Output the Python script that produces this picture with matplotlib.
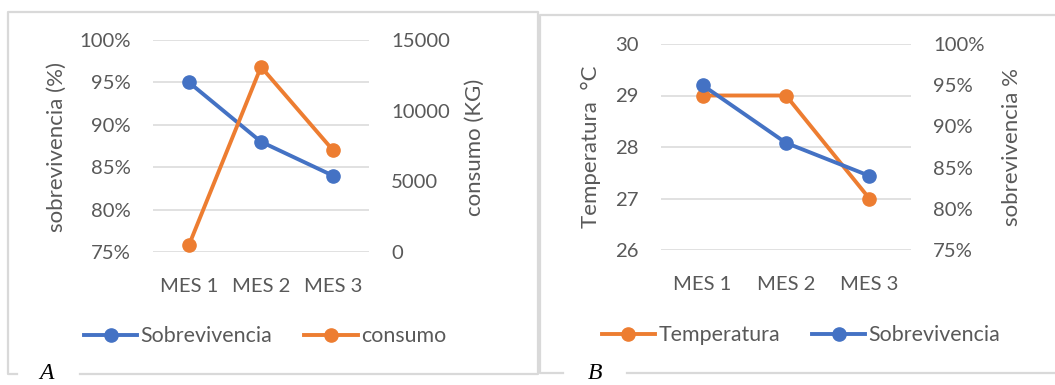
import matplotlib.pyplot as plt
from matplotlib.lines import Line2D
from matplotlib.ticker import PercentFormatter, MultipleLocator

meses = ["MES 1", "MES 2", "MES 3"]
sobrevivencia = [0.95, 0.88, 0.84]
consumo = [500, 13100, 7200]
temperatura = [29, 29, 27]

azul = "#4472C4"
naranja = "#ED7D31"
gris = "#595959"
borde = "#D9D9D9"

plt.rcParams['font.family'] = ['Lato', 'DejaVu Sans']
plt.rcParams['font.size'] = 14

W, H = 1055, 385
fig = plt.figure(figsize=(W / 100, H / 100), dpi=100)


def px_axes(x0, y0, x1, y1):
    # pixel box (top-left origin) -> figure axes
    return fig.add_axes([x0 / W, 1 - y1 / H, (x1 - x0) / W, (y1 - y0) / H])


def px_line(xs, ys):
    fig.add_artist(Line2D([x / W for x in xs], [1 - y / H for y in ys],
                          transform=fig.transFigure, color=borde, lw=1.6))


def style(ax, grid):
    for s in ax.spines.values():
        s.set_visible(False)
    ax.tick_params(length=0, colors=gris, labelsize=14.6, pad=16)
    if grid:
        ax.yaxis.grid(True, color=borde, lw=1.1)
        ax.set_axisbelow(True)


line_kw = dict(lw=2.8, marker="o", markersize=9.5)
lab_kw = dict(rotation=90, ha="center", va="center", color=gris, fontsize=16)
leg_kw = dict(loc="center", ncol=2, frameon=False, handlelength=2.5, handletextpad=0.15,
              columnspacing=1.5, labelcolor=gris, fontsize=15.4)

# ---- panel A
px_line([17, 8, 8, 538, 538, 80], [374, 374, 12, 12, 374, 374])
a1 = px_axes(153, 40, 369, 252)
a2 = a1.twinx()
a1.plot(meses, sobrevivencia, color=azul, label="Sobrevivencia", **line_kw)
a2.plot(meses, consumo, color=naranja, label="consumo", **line_kw)
a1.set_ylim(0.75, 1.0)
a1.yaxis.set_major_locator(MultipleLocator(0.05))
a1.yaxis.set_major_formatter(PercentFormatter(1.0, decimals=0))
a2.set_ylim(0, 15000)
a2.yaxis.set_major_locator(MultipleLocator(5000))
a1.set_xlim(-0.5, 2.5)
style(a1, True)
style(a2, False)
a1.tick_params(axis="x", pad=19)
fig.text(57 / W, 1 - 147 / H, "sobrevivencia (%)", **lab_kw)
fig.text(475 / W, 1 - 147 / H, "consumo (KG)", **lab_kw)
h1, l1 = a1.get_legend_handles_labels()
h2, l2 = a2.get_legend_handles_labels()
fig.legend(h1 + h2, l1 + l2, bbox_to_anchor=(265 / W, 1 - 336 / H), **leg_kw)
fig.text(46 / W, 1 - 384 / H, "A", fontsize=17, style="italic", family="Liberation Serif",
         ha="center", va="bottom")

# ---- panel B
px_line([563, 540, 540, 1055], [373, 373, 15, 15])
px_line([627, 1055], [373, 373])
b1 = px_axes(661, 44, 911, 250)
b2 = b1.twinx()
b1.plot(meses, temperatura, color=naranja, label="Temperatura", **line_kw)
b2.plot(meses, sobrevivencia, color=azul, label="Sobrevivencia", **line_kw)
b1.set_ylim(26, 30)
b1.yaxis.set_major_locator(MultipleLocator(1))
b2.set_ylim(0.75, 1.0)
b2.yaxis.set_major_locator(MultipleLocator(0.05))
b2.yaxis.set_major_formatter(PercentFormatter(1.0, decimals=0))
b1.set_xlim(-0.5, 2.5)
style(b1, True)
style(b2, False)
b1.tick_params(axis="x", pad=19)
fig.text(591 / W, 1 - 147 / H, "Temperatura  °C", **lab_kw)
fig.text(1012 / W, 1 - 147 / H, "sobrevivencia %", **lab_kw)
h1, l1 = b1.get_legend_handles_labels()
h2, l2 = b2.get_legend_handles_labels()
fig.legend(h1 + h2, l1 + l2, bbox_to_anchor=(801 / W, 1 - 335 / H), **leg_kw)
fig.text(595 / W, 1 - 384 / H, "B", fontsize=17, style="italic", family="Liberation Serif",
         ha="center", va="bottom")

fig.savefig("out.png", dpi=100)
